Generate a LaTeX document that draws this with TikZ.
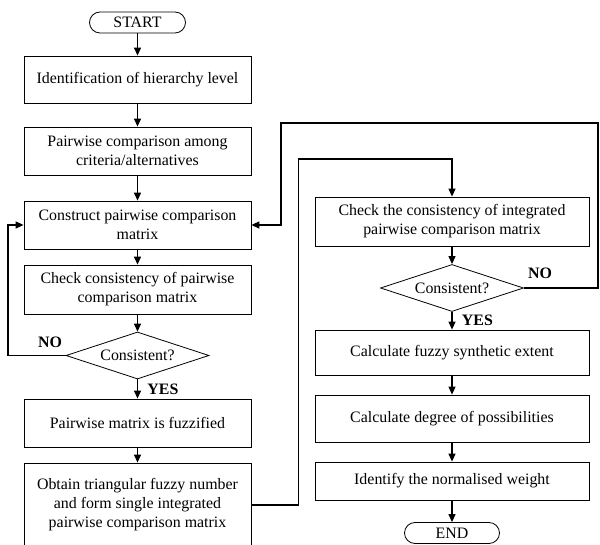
\documentclass[tikz,border=0pt]{standalone}
\usepackage{fontspec}
\setmainfont{Liberation Serif}
\usetikzlibrary{shapes.geometric,arrows.meta,calc}

\begin{document}
\begin{tikzpicture}[x=1pt,y=-1pt,
	every node/.style={font=\fontsize{15.9}{19}\selectfont},
	procbox/.style={draw,line width=0.8pt,align=center,inner sep=0pt,minimum height=48pt},
	leftbox/.style={procbox,minimum width=227pt},
	rightbox/.style={procbox,minimum width=274pt},
	term/.style={draw,rounded corners=10.5pt,line width=0.8pt,minimum width=96pt,minimum height=21pt,inner sep=0pt},
	decide/.style={draw,diamond,line width=0.8pt,aspect=3,minimum width=143pt,minimum height=47pt,inner sep=0pt},
	arr/.style={line width=1.2pt,-{Triangle[length=8pt,width=7pt]}},
	flag/.style={font=\fontsize{15.9}{19}\selectfont\bfseries}]
	\useasboundingbox (0,0) rectangle (600,545);
	\node[term] (start) at (137.5,22.5) {START};
	\node[leftbox,minimum height=47pt] (ident) at (137.5,79.5) {Identification of hierarchy level};
	\node[leftbox] (pair) at (137.5,151) {Pairwise comparison among\\criteria/alternatives};
	\node[leftbox] (build) at (137.5,225) {Construct pairwise comparison\\matrix};
	\node[leftbox,minimum height=49pt] (check) at (137.5,289.5) {Check consistency of pairwise\\comparison matrix};
	\node[decide] (cons) at (137.5,355.5) {Consistent?};
	\node[leftbox] (fuzz) at (137.5,423) {Pairwise matrix is fuzzified};
	\node[leftbox,minimum height=84pt] (tfn) at (137.5,505) {Obtain triangular fuzzy number\\and form single integrated\\pairwise comparison matrix};
	\node[rightbox,minimum height=49pt] (checkint) at (452,221.5) {Check the consistency of integrated\\pairwise comparison matrix};
	\node[decide] (consint) at (452,288) {Consistent?};
	\node[rightbox,minimum height=45pt] (extent) at (452,352.5) {Calculate fuzzy synthetic extent};
	\node[rightbox,minimum height=47pt] (degree) at (452,418.5) {Calculate degree of possibilities};
	\node[rightbox,minimum height=38pt] (weight) at (452,481) {Identify the normalised weight};
	\node[term,minimum width=95pt] (end) at (452,533) {END};
	\coordinate (noleft) at (8,355.5);
	\coordinate (jump) at (298.5,159);
	\coordinate (noright) at (598,123);
	\coordinate (backin) at (281,123);
	\draw[arr] (start) -- (ident);
	\draw[arr] (ident) -- (pair);
	\draw[arr] (pair) -- (build);
	\draw[arr] (build) -- (check);
	\draw[arr] (check) -- (cons);
	\draw[arr] (cons) -- node[flag,right,xshift=6pt] (yesl) {YES} (fuzz);
	\draw[arr] (fuzz) -- (tfn);
	\draw[arr] (cons.west) -- (noleft) |- (build.west);
	\node[flag] (nol) at (50,342) {NO};
	\draw[arr] (tfn.east) -| (jump) -| (checkint.north);
	\draw[arr] (checkint) -- (consint);
	\draw[arr] (consint) -- node[flag,right,xshift=6pt] (yesr) {YES} (extent);
	\draw[arr] (consint.east) -| (noright) -- (backin) |- (build.east);
	\node[flag] (nor) at (540,273) {NO};
	\draw[arr] (extent) -- (degree);
	\draw[arr] (degree) -- (weight);
	\draw[arr] (weight) -- (end);
\end{tikzpicture}
\end{document}
